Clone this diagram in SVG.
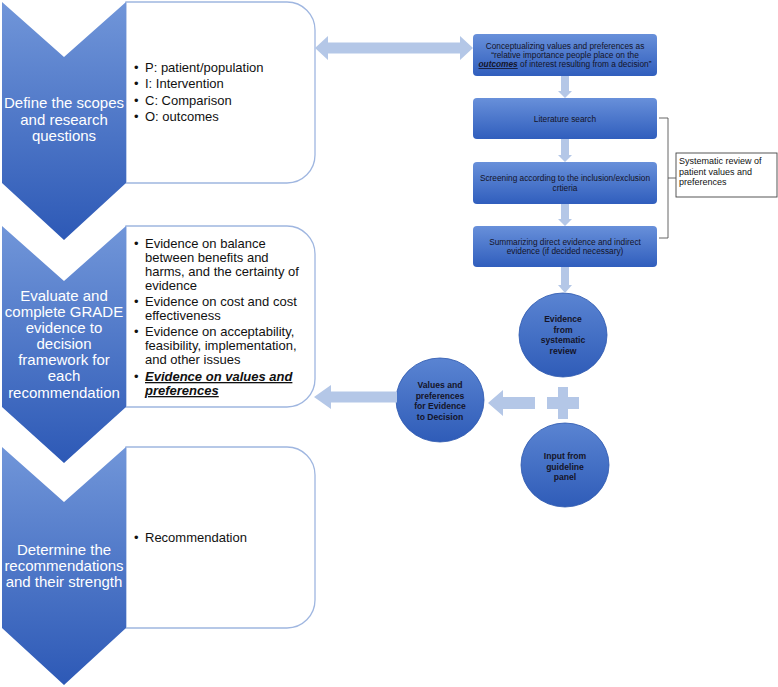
<svg xmlns="http://www.w3.org/2000/svg" width="778" height="687" viewBox="0 0 778 687">
<defs>
<linearGradient id="gChev" x1="0" y1="0" x2="0" y2="1"><stop offset="0" stop-color="#7196d9"/><stop offset="1" stop-color="#2d59b6"/></linearGradient>
<linearGradient id="gBox" x1="0" y1="0" x2="0" y2="1"><stop offset="0" stop-color="#6890da"/><stop offset="1" stop-color="#305ebd"/></linearGradient>
<linearGradient id="gCirc" x1="0" y1="0" x2="0" y2="1"><stop offset="0" stop-color="#5a84d2"/><stop offset="1" stop-color="#2f5cb8"/></linearGradient>
</defs>
<style>
.chev{fill:url(#gChev);}
.wbox{fill:#fff;stroke:#9fb6e0;stroke-width:1.3;}
.ct{font-family:"Liberation Sans",Arial,sans-serif;font-size:15px;fill:#fff;text-anchor:middle;}
.bt{font-family:"Liberation Sans",Arial,sans-serif;font-size:13px;fill:#111;}
.rb{fill:url(#gBox);}
.rt{font-family:"Liberation Sans",Arial,sans-serif;font-size:8.3px;fill:#141428;text-anchor:middle;}
.circ{fill:url(#gCirc);stroke:#2a55ad;stroke-width:0.8;}
.cit{font-family:"Liberation Sans",Arial,sans-serif;font-size:8.6px;font-weight:bold;fill:#141428;text-anchor:middle;}
.arr{fill:#b4c7e7;}
.bi{font-weight:bold;font-style:italic;text-decoration:underline;}
.st{font-family:"Liberation Sans",Arial,sans-serif;font-size:9px;fill:#111;}
</style>
<rect width="778" height="687" fill="#fff"/>

<g id="step1">
<path class="wbox" d="M126,2 H287 A28,28 0 0 1 315,30 V155 A28,28 0 0 1 287,183 H126 Z"/>
<path class="chev" d="M2,2 L64,57 L126,2 L126,183 L64,240 L2,183 Z"/>
<text class="ct"><tspan x="64" y="108">Define the scopes</tspan><tspan x="64" y="124.5">and research</tspan><tspan x="64" y="141">questions</tspan></text>
<text class="bt"><tspan x="134" y="72">•</tspan><tspan x="145" y="72">P: patient/population</tspan><tspan x="134" y="88">•</tspan><tspan x="145" y="88">I: Intervention</tspan><tspan x="134" y="105">•</tspan><tspan x="145" y="105">C: Comparison</tspan><tspan x="134" y="121">•</tspan><tspan x="145" y="121">O: outcomes</tspan></text>
</g>

<g id="step2">
<path class="wbox" d="M126,226 H287 A28,28 0 0 1 315,254 V379 A28,28 0 0 1 287,407 H126 Z"/>
<path class="chev" d="M2,226 L64,281 L126,226 L126,407 L64,463 L2,407 Z"/>
<text class="ct"><tspan x="64" y="301">Evaluate and</tspan><tspan x="64" y="317">complete GRADE</tspan><tspan x="64" y="333">evidence to</tspan><tspan x="64" y="349">decision</tspan><tspan x="64" y="365">framework for</tspan><tspan x="64" y="381">each</tspan><tspan x="64" y="398">recommendation</tspan></text>
<text class="bt"><tspan x="134" y="247.5">•</tspan><tspan x="145" y="247.5">Evidence on balance</tspan><tspan x="145" y="261.5">between benefits and</tspan><tspan x="145" y="275.5">harms, and the certainty of</tspan><tspan x="145" y="289.5">evidence</tspan><tspan x="134" y="306">•</tspan><tspan x="145" y="306">Evidence on cost and cost</tspan><tspan x="145" y="320">effectiveness</tspan><tspan x="134" y="336">•</tspan><tspan x="145" y="336">Evidence on acceptability,</tspan><tspan x="145" y="350">feasibility, implementation,</tspan><tspan x="145" y="364">and other issues</tspan><tspan x="134" y="381">•</tspan><tspan x="145" y="381" class="bi">Evidence on values and</tspan><tspan x="145" y="395" class="bi">preferences</tspan></text>
</g>

<g id="step3">
<path class="wbox" d="M126,447 H287 A28,28 0 0 1 315,475 V600 A28,28 0 0 1 287,628 H126 Z"/>
<path class="chev" d="M2,447 L64,502 L126,447 L126,628 L64,685 L2,628 Z"/>
<text class="ct"><tspan x="64" y="555">Determine the</tspan><tspan x="64" y="571">recommendations</tspan><tspan x="64" y="587">and their strength</tspan></text>
<text class="bt"><tspan x="134" y="542">•</tspan><tspan x="145" y="542">Recommendation</tspan></text>
</g>

<g id="conceptualizing">
<rect class="rb" x="473" y="34" width="184" height="42" rx="4"/>
<text class="rt"><tspan x="565" y="49">Conceptualizing values and preferences as</tspan><tspan x="565" y="58">“relative importance people place on the</tspan><tspan x="565" y="67"><tspan class="bi">outcomes</tspan> of interest resulting from a decision”</tspan></text>
</g>
<g id="literature">
<rect class="rb" x="473" y="98" width="184" height="41" rx="4"/>
<text class="rt"><tspan x="565" y="122">Literature search</tspan></text>
</g>
<g id="screening">
<rect class="rb" x="473" y="162" width="184" height="42" rx="4"/>
<text class="rt"><tspan x="565" y="181">Screening according to the inclusion/exclusion</tspan><tspan x="565" y="191">crtieria</tspan></text>
</g>
<g id="summarizing">
<rect class="rb" x="473" y="226" width="184" height="41" rx="4"/>
<text class="rt"><tspan x="565" y="245">Summarizing direct evidence and indirect</tspan><tspan x="565" y="254">evidence (if decided necessary)</tspan></text>
</g>
<g id="sysreview">
<rect x="676" y="153" width="101" height="44" fill="#fff" stroke="#444" stroke-width="0.9"/>
<text class="st"><tspan x="679" y="164">Systematic review of</tspan><tspan x="679" y="174.5">patient values and</tspan><tspan x="679" y="185">preferences</tspan></text>
</g>
<g id="evidence-sr">
<ellipse class="circ" cx="563" cy="335" rx="44" ry="42"/>
<text class="cit"><tspan x="563" y="322">Evidence</tspan><tspan x="563" y="332.5">from</tspan><tspan x="563" y="343">systematic</tspan><tspan x="563" y="354">review</tspan></text>
</g>
<g id="input-panel">
<ellipse class="circ" cx="565" cy="465" rx="44" ry="42"/>
<text class="cit"><tspan x="565" y="459">Input from</tspan><tspan x="565" y="469.5">guideline</tspan><tspan x="565" y="480">panel</tspan></text>
</g>
<g id="values-etd">
<ellipse class="circ" cx="440" cy="400" rx="44" ry="42"/>
<text class="cit"><tspan x="440" y="388">Values and</tspan><tspan x="440" y="398.5">preferences</tspan><tspan x="440" y="409">for Evidence</tspan><tspan x="440" y="419.5">to Decision</tspan></text>
</g>

<g id="connectors">
<polygon class="arr" points="315,48 328,36 328,42.5 460,42.5 460,36 473,48 460,60 460,53.5 328,53.5 328,60"/>
<polygon class="arr" points="561,76 569,76 569,91 572,91 565,98 558,91 561,91"/>
<polygon class="arr" points="561,139 569,139 569,155 572,155 565,162 558,155 561,155"/>
<polygon class="arr" points="561,204 569,204 569,219 572,219 565,226 558,219 561,219"/>
<polygon class="arr" points="561,267 569,267 569,285 572,285 565,293 558,285 561,285"/>
<rect class="arr" x="547" y="397" width="32" height="12"/>
<rect class="arr" x="558" y="387" width="10" height="32"/>
<polygon class="arr" points="488,403 503,390 503,397 535,397 535,409 503,409 503,416"/>
<polygon class="arr" points="314,397 331,385 331,391.5 397,391.5 397,402.5 331,402.5 331,409"/>
<path d="M659,118 H668 V238 H659 M668,178 H676" fill="none" stroke="#555" stroke-width="0.9"/>
</g>
</svg>
